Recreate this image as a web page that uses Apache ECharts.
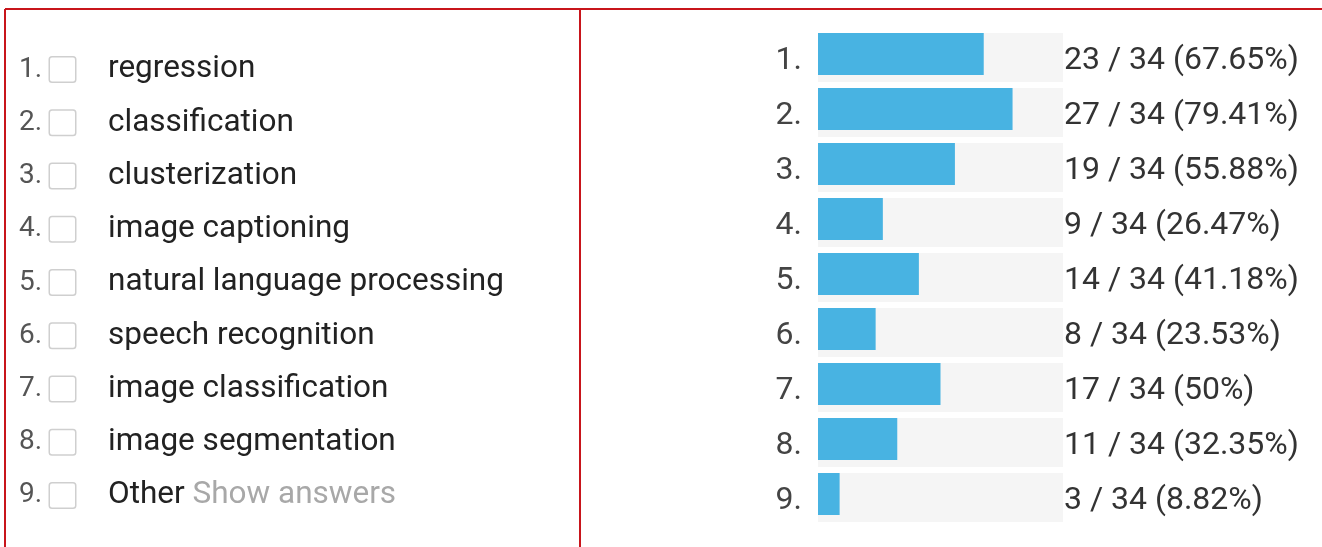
<!DOCTYPE html>
<html>
<head>
<meta charset="utf-8">
<script src="https://cdn.jsdelivr.net/npm/echarts@6/dist/echarts.min.js"></script>
<style>
html,body{margin:0;padding:0;background:#fff;}
#main{width:1322px;height:547px;}
</style>
</head>
<body>
<div id="main"></div>
<script>
const optionNames = ['regression','classification','clusterization','image captioning','natural language processing','speech recognition','image classification','image segmentation','Other'];
const rowLabels = ['1.','2.','3.','4.','5.','6.','7.','8.','9.'];
const counts = [23, 27, 19, 9, 14, 8, 17, 11, 3];
const total = 34;
const otherNote = 'Show answers';

const FONT = 'Roboto';
const pct = v => Math.round(v / total * 10000) / 100;

const chart = echarts.init(document.getElementById('main'), null, {renderer: 'canvas'});

const hiddenCat = (gi, extra) => Object.assign({
  gridIndex: gi, type: 'category', data: rowLabels, inverse: true,
  axisLine: {show: false}, axisTick: {show: false}, splitLine: {show: false},
  axisLabel: {show: false}
}, extra || {});

const option = {
  backgroundColor: '#ffffff',
  animation: false,
  textStyle: {fontFamily: FONT},
  grid: [
    {left: 0, top: 43, width: 19, height: 479},       // left list
    {left: 818, top: 30, width: 245, height: 495},    // tracks
    {left: 818, top: 26.5, width: 245, height: 495},  // bars
    {left: 818, top: 33, width: 245, height: 495}     // row numbers
  ],
  xAxis: [
    {gridIndex: 0, type: 'value', show: false},
    {gridIndex: 1, type: 'value', min: 0, max: total, show: false},
    {gridIndex: 2, type: 'value', min: 0, max: total, show: false},
    {gridIndex: 3, type: 'value', min: 0, max: total, show: false}
  ],
  yAxis: [
    {
      gridIndex: 0, type: 'category', data: optionNames, inverse: true, position: 'right',
      axisLine: {show: false}, axisTick: {show: false}, splitLine: {show: false},
      axisLabel: {
        margin: 0, align: 'left',
        formatter: (val, idx) => {
          let s = '{n|' + rowLabels[idx] + '}{box|}{gap|}{t|' + val + '}';
          if (val === 'Other') s += '{g| ' + otherNote + '}';
          return s;
        },
        rich: {
          n: {fontFamily: FONT, fontSize: 28, color: '#555', width: 31},
          box: {width: 25, height: 24, borderColor: '#cfcfcf', borderWidth: 1.5, borderRadius: 2, backgroundColor: '#fff'},
          gap: {width: 33},
          t: {fontFamily: FONT, fontSize: 31.5, color: '#222'},
          g: {fontFamily: FONT, fontSize: 31.5, color: '#a8a8a8'}
        }
      }
    },
    hiddenCat(1),
    hiddenCat(2),
    hiddenCat(3, {axisLabel: {show: true, margin: 16, fontFamily: FONT, fontSize: 32, color: '#444'}})
  ],
  series: [
    {
      type: 'bar', xAxisIndex: 1, yAxisIndex: 1, barWidth: 49,
      data: counts.map(() => total),
      itemStyle: {color: '#f5f5f5'},
      label: {
        show: true, position: 'right', distance: 1, offset: [0, 3],
        fontFamily: FONT, fontSize: 32, color: '#333',
        formatter: p => counts[p.dataIndex] + ' / ' + total + ' (' + pct(counts[p.dataIndex]) + '%)'
      },
      silent: true
    },
    {
      type: 'bar', xAxisIndex: 2, yAxisIndex: 2, barWidth: 42,
      data: counts,
      itemStyle: {color: '#48b3e2'}
    }
  ],
  graphic: [
    {type: 'line', shape: {x1: 5, y1: 9, x2: 1322, y2: 9}, style: {stroke: '#c8151b', lineWidth: 2}},
    {type: 'line', shape: {x1: 5, y1: 9, x2: 5, y2: 547}, style: {stroke: '#c8151b', lineWidth: 2}},
    {type: 'line', shape: {x1: 580, y1: 9, x2: 580, y2: 547}, style: {stroke: '#c8151b', lineWidth: 2}}
  ]
};
chart.setOption(option);
</script>
</body>
</html>
